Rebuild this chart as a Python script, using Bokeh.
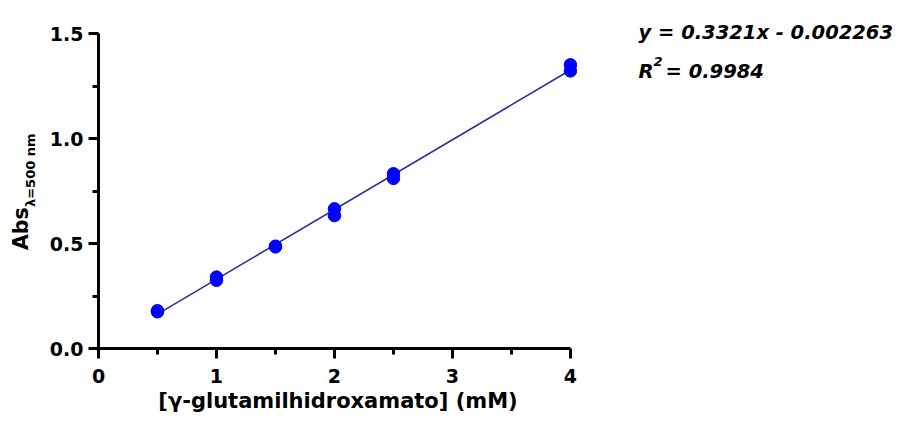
import math
from bokeh.plotting import figure
from bokeh.layouts import row
from bokeh.models import Range1d, FixedTicker, NumeralTickFormatter
from bokeh.core.properties import value
from bokeh.embed import file_html
from bokeh.resources import INLINE

# ---- data ----
conc_mM = [0.5, 0.5, 1.0, 1.0, 1.5, 1.5, 2.0, 2.0, 2.5, 2.5, 4.0, 4.0]
absorbance = [0.180, 0.175, 0.340, 0.325, 0.487, 0.484, 0.665, 0.633, 0.832, 0.810, 1.351, 1.322]
fit_slope = 0.3321
fit_intercept = -0.002263
fit_x = [0.5, 4.0]
x_ticks = [0, 1, 2, 3, 4]
x_minor = [0.5, 1.5, 2.5, 3.5]
y_ticks = [0.0, 0.5, 1.0, 1.5]
y_minor = [0.25, 0.75, 1.25]
x_label = "[γ-glutamilhidroxamato] (mM)"
y_label_main = "Abs"
y_label_sub = "λ=500 nm"
eq_text = "y = 0.3321x - 0.002263"
r2_main = "R"
r2_sup = "2"
r2_value = "= 0.9984"

FONT = "DejaVu Sans"
FRAME_H = 348    # frame spans page y 0..348 in every strip
BOTTOM = 69      # space below the frame (total height 417)
W_LEFT = 45      # width of the y-label strip
W_RIGHT = 321    # equation strip width
X_RIGHT0 = W_LEFT + 53 + 479     # equation strip starts here


def blank_fig(width):
    f = figure(frame_width=width, frame_height=FRAME_H,
               x_range=Range1d(0, width), y_range=Range1d(0, FRAME_H),
               x_axis_location=None, y_axis_location=None,
               min_border_left=0, min_border_right=0, min_border_top=0, min_border_bottom=BOTTOM,
               output_backend="svg", toolbar_location=None)
    f.outline_line_color = None
    f.grid.visible = False
    f.background_fill_color = "white"
    f.border_fill_color = "white"
    return f


# ---------------- main chart ----------------
y_top = 1.5 + 33 / 210.0   # frame extends above 1.5 so that side strips share its height
p = figure(
    frame_width=479, frame_height=FRAME_H,
    min_border_left=53, min_border_right=0, min_border_top=0, min_border_bottom=BOTTOM,
    x_range=Range1d(0, 4.06), y_range=Range1d(0, y_top),
    output_backend="svg", toolbar_location=None,
    background_fill_color="white", border_fill_color="white",
)
p.outline_line_color = None
p.grid.visible = False

for ax in (p.xaxis[0], p.yaxis[0]):
    ax.axis_line_width = 3
    ax.axis_line_color = "black"
    ax.major_tick_line_width = 3
    ax.minor_tick_line_width = 3
    ax.major_tick_line_color = "black"
    ax.minor_tick_line_color = "black"
    ax.major_tick_in = 0
    ax.minor_tick_in = 0
    ax.major_tick_out = 10
    ax.minor_tick_out = 6
    ax.major_label_text_font = FONT
    ax.major_label_text_font_style = "bold"
    ax.major_label_text_font_size = "19px"
    ax.major_label_text_color = "black"

xa = p.xaxis[0]
xa.ticker = FixedTicker(ticks=x_ticks, minor_ticks=x_minor)
xa.bounds = (0, 4)
xa.major_label_standoff = 10
xa.axis_label = x_label
xa.axis_label_text_font = FONT
xa.axis_label_text_font_style = "bold"
xa.axis_label_text_font_size = "21px"
xa.axis_label_text_color = "black"
xa.axis_label_standoff = 3

ya = p.yaxis[0]
ya.ticker = FixedTicker(ticks=y_ticks, minor_ticks=y_minor)
ya.formatter = NumeralTickFormatter(format="0.0")
ya.bounds = (0, 1.5)
ya.major_label_standoff = 5
ya.major_label_orientation = "horizontal"

fit_y = [fit_slope * x + fit_intercept for x in fit_x]
p.line(fit_x, fit_y, line_color="#2e2e9e", line_width=1.6)
p.scatter(conc_mM, absorbance, size=12.5, fill_color="#0000ff", line_color="#0000ff")

# ---------------- y-axis label strip (data y = 348 - page y) ----------------
fl = blank_fig(W_LEFT)
fl.text(x=[20], y=[FRAME_H - 249.5], text=[y_label_main], angle=math.pi / 2,
        text_align="left", text_baseline="alphabetic",
        text_font=value(FONT), text_font_style="bold", text_font_size="20.5px", text_color="black")
fl.text(x=[30], y=[FRAME_H - 206.5], text=[y_label_sub], angle=math.pi / 2,
        text_align="left", text_baseline="alphabetic",
        text_font=value(FONT), text_font_style="bold", text_font_size="13px", text_color="black")

# ---------------- equation strip ----------------
fr = blank_fig(W_RIGHT)
fr.text(x=[638 - X_RIGHT0], y=[FRAME_H - 32], text=[eq_text], text_align="left", text_baseline="alphabetic",
        text_font=value(FONT), text_font_style="bold italic", text_font_size="19.5px", text_color="black")
fr.text(x=[638 - X_RIGHT0], y=[FRAME_H - 71], text=[r2_main], text_align="left", text_baseline="alphabetic",
        text_font=value(FONT), text_font_style="bold italic", text_font_size="19.5px", text_color="black")
fr.text(x=[653 - X_RIGHT0], y=[FRAME_H - 61], text=[r2_sup], text_align="left", text_baseline="alphabetic",
        text_font=value(FONT), text_font_style="bold italic", text_font_size="13px", text_color="black")
fr.text(x=[665 - X_RIGHT0], y=[FRAME_H - 71], text=[r2_value], text_align="left", text_baseline="alphabetic",
        text_font=value(FONT), text_font_style="bold italic", text_font_size="19.5px", text_color="black")

layout = row(fl, p, fr, spacing=0)
open("out.html", "w").write(file_html(layout, INLINE))
